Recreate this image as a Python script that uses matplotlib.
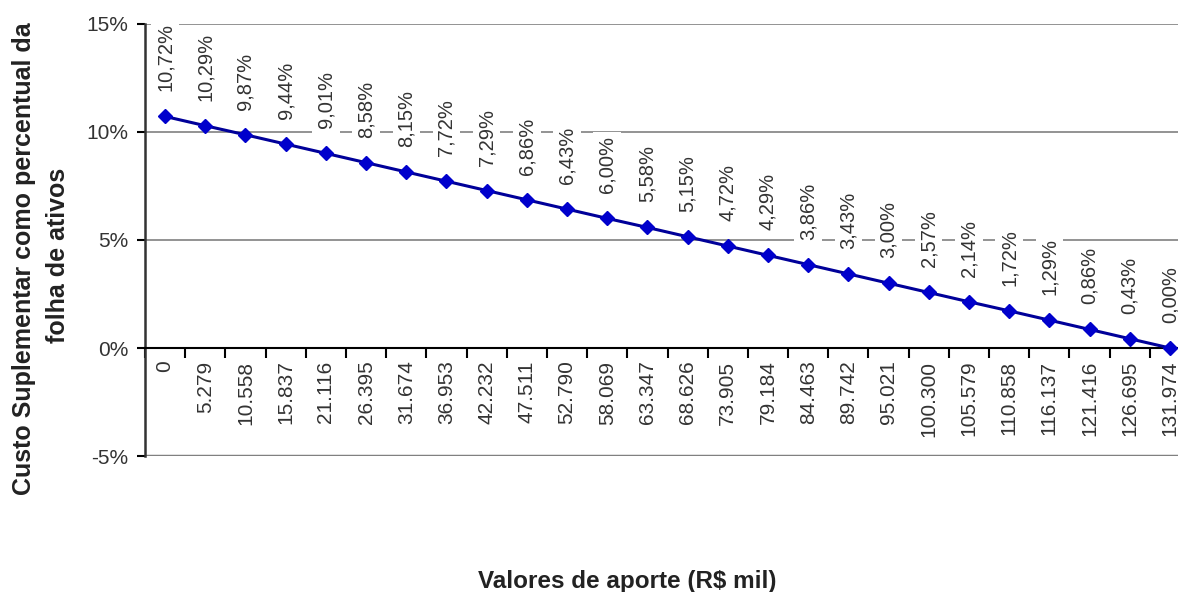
import matplotlib.pyplot as plt

plt.rcParams['font.family'] = ['Liberation Sans', 'DejaVu Sans']

aportes = ["0", "5.279", "10.558", "15.837", "21.116", "26.395", "31.674",
           "36.953", "42.232", "47.511", "52.790", "58.069", "63.347", "68.626",
           "73.905", "79.184", "84.463", "89.742", "95.021", "100.300",
           "105.579", "110.858", "116.137", "121.416", "126.695", "131.974"]
custo = [10.72, 10.29, 9.87, 9.44, 9.01, 8.58, 8.15, 7.72, 7.29, 6.86, 6.43,
         6.00, 5.58, 5.15, 4.72, 4.29, 3.86, 3.43, 3.00, 2.57, 2.14, 1.72,
         1.29, 0.86, 0.43, 0.00]
y_ticks = [-5, 0, 5, 10, 15]

fig = plt.figure(figsize=(11.78, 5.92), dpi=100)
ax = fig.add_axes([0.1231, 0.2297, 1.0102 - 0.1231, 0.9595 - 0.2297])

x = list(range(len(aportes)))
ax.set_xlim(-0.5, len(aportes) - 0.5)
ax.set_ylim(-5, 15)

# grade horizontal e borda inferior da area do grafico
for yv in [5, 10, 15]:
    ax.axhline(yv, color='#808080', lw=1.2, zorder=0)
ax.axhline(-5, color='#808080', lw=2.5, zorder=0)

ax.plot(x, custo, color='#000099', lw=2.2, marker='D', markersize=7,
        markerfacecolor='#0000CC', markeredgecolor='#0000CC', zorder=3,
        clip_on=False)

for xi, v in zip(x, custo):
    ax.annotate(f"{v:.2f}%".replace('.', ','), (xi, v), xytext=(0, 18),
                textcoords='offset points', rotation=90, ha='center',
                va='bottom', fontsize=14.5, color='#333333', zorder=2,
                bbox=dict(facecolor='white', edgecolor='none', pad=3))
    ax.annotate(aportes[xi], (xi, 0), xytext=(0, -9),
                textcoords='offset points', rotation=90, ha='center',
                va='top', fontsize=15, color='#333333')

for s in ['top', 'right']:
    ax.spines[s].set_visible(False)
ax.spines['bottom'].set_position(('data', 0))
ax.spines['bottom'].set_linewidth(1.5)
ax.spines['left'].set_linewidth(1.8)
ax.spines['left'].set_color('#333333')

ax.set_xticks([i + 0.5 for i in range(-1, len(aportes))])
ax.set_xticklabels([])
ax.tick_params(axis='x', direction='out', length=7, width=1.5)

ax.set_yticks(y_ticks)
ax.set_yticklabels([f"{t}%" for t in y_ticks], fontsize=15, color='#333333')
ax.tick_params(axis='y', direction='out', length=6, width=1.5, pad=6)

fig.text(24 / 1178, 1 - 259 / 592, "Custo Suplementar como percentual da",
         rotation=90, ha='center', va='center', fontsize=18,
         fontweight='bold', color='#222222')
fig.text(58 / 1178, 1 - 255 / 592, "folha de ativos",
         rotation=90, ha='center', va='center', fontsize=18,
         fontweight='bold', color='#222222')
fig.text(627 / 1178, 1 - 588 / 592, "Valores de aporte (R$ mil)",
         ha='center', va='baseline', fontsize=17.5, fontweight='bold',
         color='#222222')

fig.savefig('out.png', dpi=100)
